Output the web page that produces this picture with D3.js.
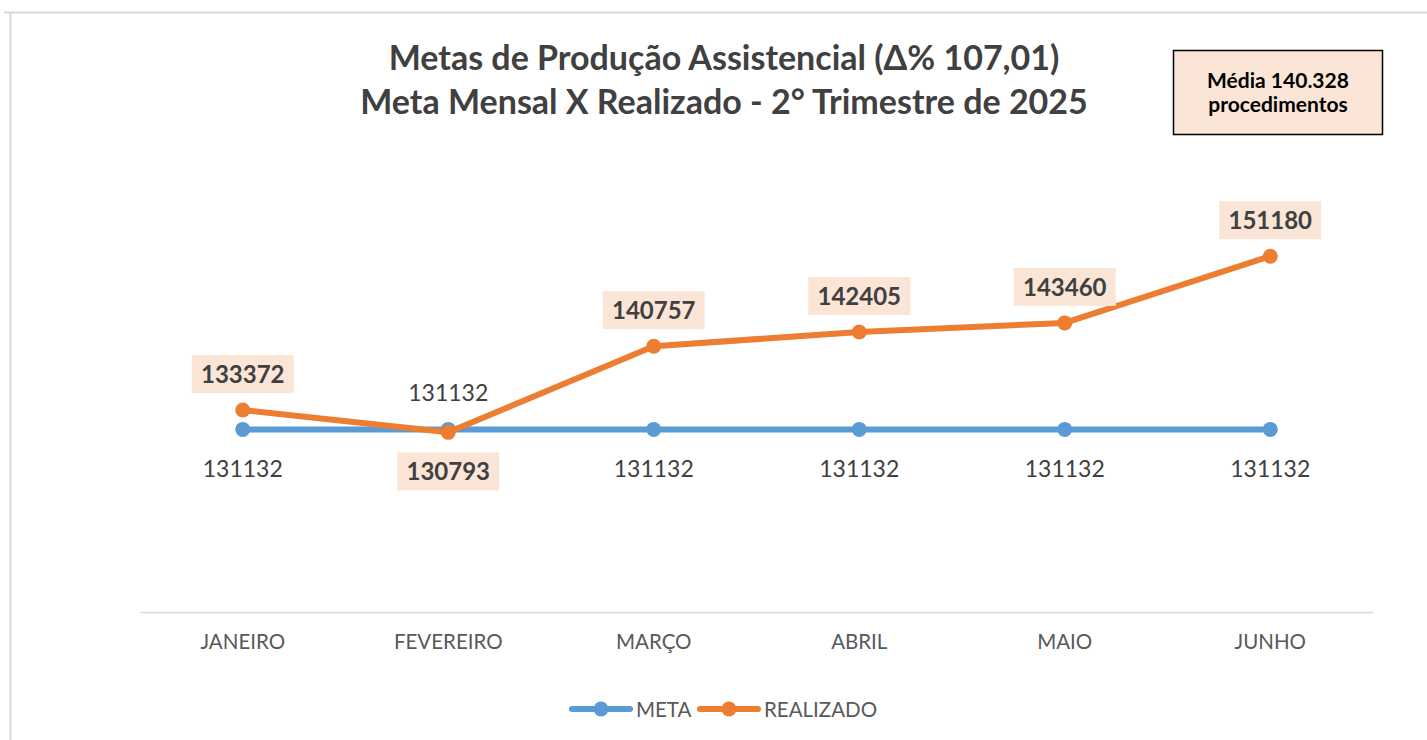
<!DOCTYPE html>
<html lang="pt">
<head>
<meta charset="UTF-8">
<title>Metas de Produção Assistencial</title>
<script src="https://cdn.jsdelivr.net/npm/d3@7"></script>
<style>
    body { margin: 0; background: #fff; }
    svg { display: block; font-family: Lato, 'Open Sans', sans-serif; }
</style>
</head>
<body>
<svg id="chart" width="1427" height="740"></svg>
<script>
    const months = ["JANEIRO", "FEVEREIRO", "MARÇO", "ABRIL", "MAIO", "JUNHO"];
    const meta = [131132, 131132, 131132, 131132, 131132, 131132];
    const realizado = [133372, 130793, 140757, 142405, 143460, 151180];
    const titleLines = ["Metas de Produção Assistencial (Δ% 107,01)", "Meta Mensal X Realizado - 2° Trimestre de 2025"];
    const mediaLines = ["Média 140.328", "procedimentos"];

    const blue = "#5B9BD5";
    const orange = "#ED7D31";
    const labelFill = "#FBE5D6";

    const svg = d3.select("#chart");

    // outer frame (clipped by page on right/bottom)
    svg.append("path")
        .attr("d", "M4,12.5 H1440 M10.5,12 V760")
        .attr("stroke", "#d9d9d9")
        .attr("stroke-width", 2)
        .attr("fill", "none");

    const x = d3.scaleBand().domain(months).range([140, 1373]);
    const y = d3.scaleLinear().domain([110000, 160000]).range([612, 180]);
    const cx = d => x(d) + x.bandwidth() / 2;

    // title
    svg.append("g").selectAll("text")
        .data(titleLines)
        .join("text")
        .attr("x", 724)
        .attr("y", (d, i) => 70 + i * 44)
        .attr("text-anchor", "middle")
        .attr("font-size", 34)
        .attr("font-weight", "bold")
        .attr("fill", "#404040")
        .text(d => d);

    // media box
    svg.append("rect")
        .attr("x", 1173.5).attr("y", 50.5)
        .attr("width", 209).attr("height", 84)
        .attr("fill", labelFill)
        .attr("stroke", "#000")
        .attr("stroke-width", 1.5);
    svg.append("g").selectAll("text")
        .data(mediaLines)
        .join("text")
        .attr("x", 1278)
        .attr("y", (d, i) => 88 + i * 24)
        .attr("text-anchor", "middle")
        .attr("font-size", 21)
        .attr("font-weight", "bold")
        .attr("fill", "#000")
        .text(d => d);

    // x axis line
    svg.append("line")
        .attr("x1", 140).attr("x2", 1373)
        .attr("y1", y(110000) + 0.5).attr("y2", y(110000) + 0.5)
        .attr("stroke", "#d9d9d9")
        .attr("stroke-width", 1.5);

    svg.append("g").selectAll("text")
        .data(months)
        .join("text")
        .attr("x", d => cx(d))
        .attr("y", 649)
        .attr("text-anchor", "middle")
        .attr("font-size", 20.5)
        .attr("fill", "#595959")
        .text(d => d);

    const line = d3.line()
        .x((d, i) => cx(months[i]))
        .y(d => y(d));

    function drawSeries(values, color) {
        svg.append("path")
            .datum(values)
            .attr("d", line)
            .attr("fill", "none")
            .attr("stroke", color)
            .attr("stroke-width", 6)
            .attr("stroke-linejoin", "round");
        svg.append("g").selectAll("circle")
            .data(values)
            .join("circle")
            .attr("cx", (d, i) => cx(months[i]))
            .attr("cy", d => y(d))
            .attr("r", 7.5)
            .attr("fill", color);
    }
    drawSeries(meta, blue);
    drawSeries(realizado, orange);

    // meta labels: below, except where realizado dips under
    svg.append("g").selectAll("text")
        .data(meta)
        .join("text")
        .attr("x", (d, i) => cx(months[i]))
        .attr("y", (d, i) => realizado[i] < d ? y(d) - 28 : y(d) + 48)
        .attr("text-anchor", "middle")
        .attr("font-size", 23)
        .attr("fill", "#404040")
        .text(d => d);

    // realizado labels with shaded boxes
    const rl = svg.append("g").selectAll("g")
        .data(realizado)
        .join("g")
        .attr("transform", (d, i) => {
            const ly = d < meta[i] ? y(d) + 39 : y(d) - 36;
            return `translate(${cx(months[i])},${ly})`;
        });
    rl.append("rect")
        .attr("x", -51).attr("y", -19)
        .attr("width", 102).attr("height", 38)
        .attr("fill", labelFill);
    rl.append("text")
        .attr("y", 9)
        .attr("text-anchor", "middle")
        .attr("font-size", 24)
        .attr("font-weight", "bold")
        .attr("fill", "#404040")
        .text(d => d);

    // legend
    const legend = [
        { name: "META", color: blue, x0: 572 },
        { name: "REALIZADO", color: orange, x0: 700 }
    ];
    const lg = svg.append("g").selectAll("g")
        .data(legend)
        .join("g")
        .attr("transform", d => `translate(${d.x0},709)`);
    lg.append("line")
        .attr("x1", 0).attr("x2", 58)
        .attr("stroke", d => d.color)
        .attr("stroke-width", 6)
        .attr("stroke-linecap", "round");
    lg.append("circle")
        .attr("cx", 29).attr("r", 7.5)
        .attr("fill", d => d.color);
    lg.append("text")
        .attr("x", 64).attr("y", 7.5)
        .attr("font-size", 20.5)
        .attr("fill", "#595959")
        .text(d => d.name);
</script>
</body>
</html>
